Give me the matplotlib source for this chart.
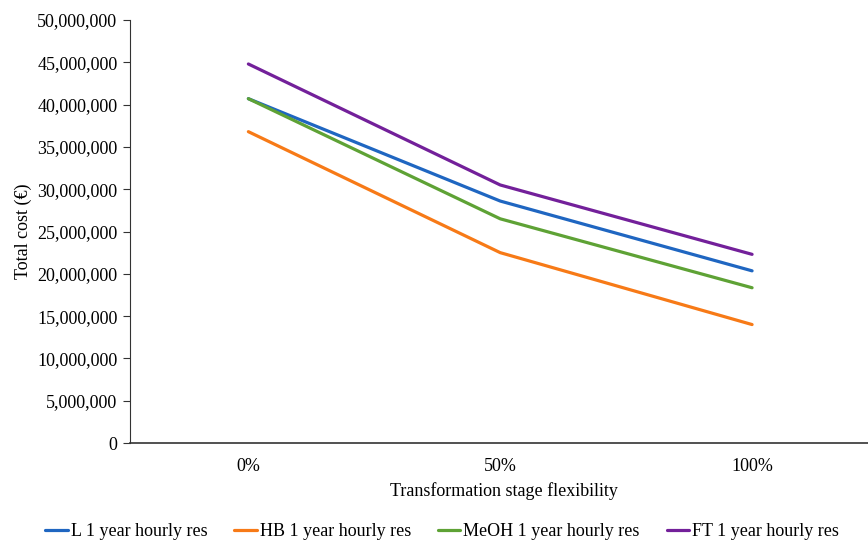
import matplotlib.pyplot as plt
from matplotlib.ticker import FuncFormatter

plt.rcParams['font.family'] = ['Liberation Serif', 'DejaVu Serif']

categories = ['0%', '50%', '100%']
series_names = ['L 1 year hourly res', 'HB 1 year hourly res',
                'MeOH 1 year hourly res', 'FT 1 year hourly res']
l_cost = [40_700_000, 28_600_000, 20_350_000]
hb_cost = [36_800_000, 22_500_000, 14_000_000]
meoh_cost = [40_700_000, 26_500_000, 18_350_000]
ft_cost = [44_800_000, 30_500_000, 22_300_000]
colors = ['#1f66c1', '#f77a17', '#5ea235', '#73209a']

fig = plt.figure(figsize=(8.68, 5.41), dpi=100)
ax = fig.add_axes([130 / 868, 1 - 443 / 541, 748 / 868, 423 / 541])

x = range(len(categories))
for vals, name, c in zip([l_cost, hb_cost, meoh_cost, ft_cost], series_names, colors):
    ax.plot(x, vals, color=c, lw=2.3, label=name, solid_capstyle='round')

ax.set_xlim(-0.47, 2.5)
ax.set_ylim(0, 50_000_000)
ax.set_yticks(range(0, 50_000_001, 5_000_000))
ax.yaxis.set_major_formatter(FuncFormatter(lambda v, p: f'{int(v):,}'))
ax.set_xticks(list(x))
ax.set_xticklabels(categories)

for s in ['top', 'right']:
    ax.spines[s].set_visible(False)
ax.spines['left'].set_color('#333333')
ax.spines['bottom'].set_color('#333333')
ax.spines['bottom'].set_linewidth(1.2)
ax.tick_params(axis='y', labelsize=13, length=5, color='#333333', pad=4)
ax.tick_params(axis='x', labelsize=13, length=0, pad=11)

ax.set_ylabel('Total cost (€)', fontsize=13, labelpad=4)
ax.set_xlabel('Transformation stage flexibility', fontsize=13, labelpad=5)

fig.legend(loc='center', bbox_to_anchor=(442 / 868, 1 - 532 / 541), ncol=4,
           frameon=False, fontsize=13, handlelength=1.25, handletextpad=0.15,
           columnspacing=1.5)

fig.savefig('out.png', dpi=100)
